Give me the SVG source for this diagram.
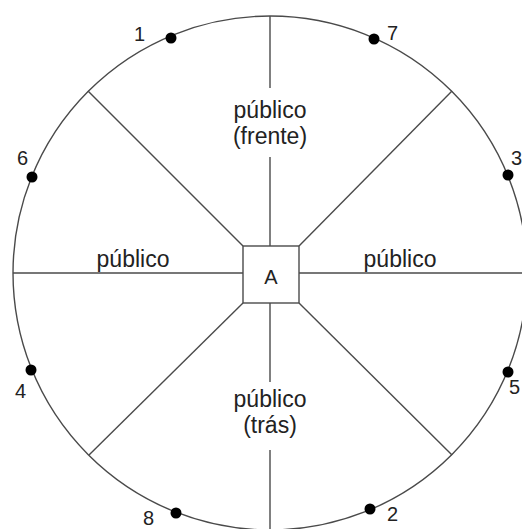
<svg xmlns="http://www.w3.org/2000/svg" width="522" height="529" viewBox="0 0 522 529">
<style>
.ln{stroke:#4a4a4a;stroke-width:1.4;fill:none}
.t{font-family:"Liberation Sans",Arial,sans-serif;fill:#222}
.lb{font-size:23px;text-anchor:middle}
.num{font-size:20px}
.dot{fill:#000}
</style>
<rect width="522" height="529" fill="#fff"/>
<g id="connectors">
<circle class="ln" cx="270" cy="273" r="257"/>
<line class="ln" x1="270" y1="16" x2="270" y2="88"/>
<line class="ln" x1="270" y1="157" x2="270" y2="246"/>
<line class="ln" x1="270" y1="303" x2="270" y2="382"/>
<line class="ln" x1="270" y1="450" x2="270" y2="530"/>
<line class="ln" x1="13" y1="273" x2="243" y2="273"/>
<line class="ln" x1="299" y1="273" x2="522" y2="273"/>
<line class="ln" x1="88" y1="91" x2="243" y2="246"/>
<line class="ln" x1="452" y1="91" x2="299" y2="246"/>
<line class="ln" x1="89" y1="455" x2="243" y2="303"/>
<line class="ln" x1="452" y1="455" x2="299" y2="303"/>
</g>
<g id="nodeA">
<rect class="ln" x="243" y="246" width="56" height="57" fill="#fff"/>
<text class="t" x="271" y="284" font-size="20" text-anchor="middle">A</text>
</g>
<g id="label-frente">
<text class="t lb" x="270" y="118">público</text>
<text class="t lb" x="270" y="144">(frente)</text>
</g>
<g id="label-tras">
<text class="t lb" x="270" y="407">público</text>
<text class="t lb" x="270" y="433">(trás)</text>
</g>
<g id="label-left"><text class="t lb" x="133" y="267">público</text></g>
<g id="label-right"><text class="t lb" x="400" y="267">público</text></g>
<g id="p1"><circle class="dot" cx="171" cy="38" r="5.5"/><text class="t num" x="134" y="41">1</text></g>
<g id="p7"><circle class="dot" cx="374" cy="39" r="5.5"/><text class="t num" x="387" y="40">7</text></g>
<g id="p6"><circle class="dot" cx="32" cy="177" r="5.5"/><text class="t num" x="17" y="165">6</text></g>
<g id="p3"><circle class="dot" cx="508" cy="175" r="5.5"/><text class="t num" x="511" y="165">3</text></g>
<g id="p4"><circle class="dot" cx="31" cy="370" r="5.5"/><text class="t num" x="15" y="398">4</text></g>
<g id="p5"><circle class="dot" cx="508" cy="372" r="5.5"/><text class="t num" x="509" y="394">5</text></g>
<g id="p8"><circle class="dot" cx="176" cy="513" r="5.5"/><text class="t num" x="143" y="525">8</text></g>
<g id="p2"><circle class="dot" cx="370" cy="509" r="5.5"/><text class="t num" x="387" y="521">2</text></g>
</svg>
